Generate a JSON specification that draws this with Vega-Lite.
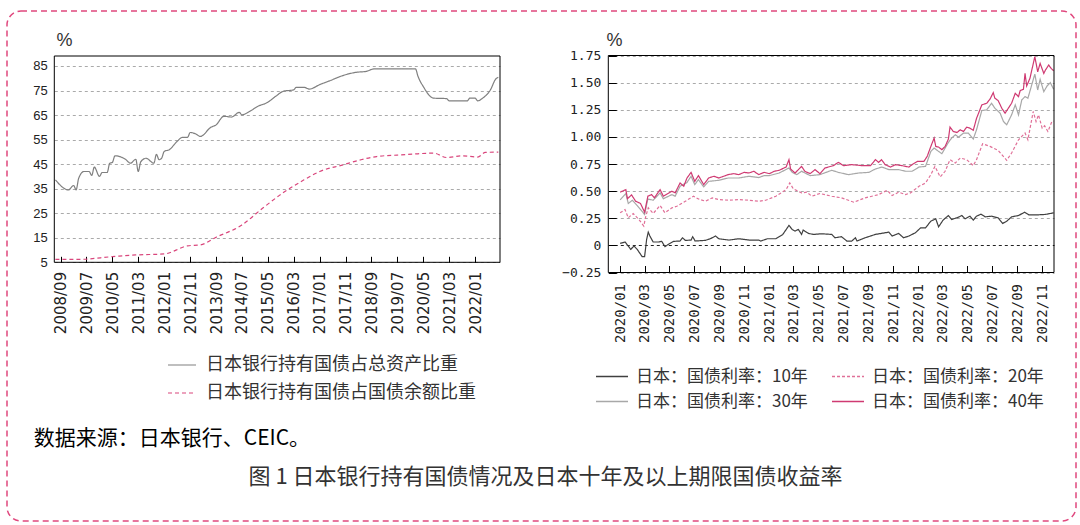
{
  "$schema": "https://vega.github.io/schema/vega-lite/v6.json",
  "width": 1069,
  "height": 510,
  "autosize": {"type": "none"},
  "padding": {"left": 7, "top": 11, "right": 4, "bottom": 4},
  "background": "white",
  "config": {
    "view": {"stroke": "#e0487e", "strokeDash": [6, 4], "strokeWidth": 1.5, "cornerRadius": 14},
    "axis": {"labelColor": "#222", "tickColor": "#000", "domain": false}
  },
  "datasets": {
    "left": [
      {"date": "2008-07-01", "series": "日本银行持有国债占总资产比重", "value": 38.6},
      {"date": "2008-12-01", "series": "日本银行持有国债占总资产比重", "value": 34.5},
      {"date": "2009-02-01", "series": "日本银行持有国债占总资产比重", "value": 36.3},
      {"date": "2009-03-01", "series": "日本银行持有国债占总资产比重", "value": 34.5},
      {"date": "2009-04-01", "series": "日本银行持有国债占总资产比重", "value": 39.3},
      {"date": "2009-06-01", "series": "日本银行持有国债占总资产比重", "value": 42.0},
      {"date": "2009-08-01", "series": "日本银行持有国债占总资产比重", "value": 42.0},
      {"date": "2009-09-01", "series": "日本银行持有国债占总资产比重", "value": 40.4},
      {"date": "2009-10-01", "series": "日本银行持有国债占总资产比重", "value": 43.8},
      {"date": "2009-12-01", "series": "日本银行持有国债占总资产比重", "value": 40.0},
      {"date": "2010-01-01", "series": "日本银行持有国债占总资产比重", "value": 41.6},
      {"date": "2010-03-01", "series": "日本银行持有国债占总资产比重", "value": 41.6},
      {"date": "2010-04-01", "series": "日本银行持有国债占总资产比重", "value": 45.4},
      {"date": "2010-05-01", "series": "日本银行持有国债占总资产比重", "value": 45.7},
      {"date": "2010-06-01", "series": "日本银行持有国债占总资产比重", "value": 48.4},
      {"date": "2010-10-01", "series": "日本银行持有国债占总资产比重", "value": 47.0},
      {"date": "2010-12-01", "series": "日本银行持有国债占总资产比重", "value": 45.4},
      {"date": "2011-02-01", "series": "日本银行持有国债占总资产比重", "value": 47.0},
      {"date": "2011-03-01", "series": "日本银行持有国债占总资产比重", "value": 42.0},
      {"date": "2011-04-01", "series": "日本银行持有国债占总资产比重", "value": 46.0},
      {"date": "2011-06-01", "series": "日本银行持有国债占总资产比重", "value": 47.4},
      {"date": "2011-09-01", "series": "日本银行持有国债占总资产比重", "value": 45.4},
      {"date": "2011-10-01", "series": "日本银行持有国债占总资产比重", "value": 49.0},
      {"date": "2011-11-01", "series": "日本银行持有国债占总资产比重", "value": 46.8},
      {"date": "2011-12-01", "series": "日本银行持有国债占总资产比重", "value": 47.4},
      {"date": "2012-01-01", "series": "日本银行持有国债占总资产比重", "value": 50.2},
      {"date": "2012-03-01", "series": "日本银行持有国债占总资产比重", "value": 50.9},
      {"date": "2012-06-01", "series": "日本银行持有国债占总资产比重", "value": 54.3},
      {"date": "2012-08-01", "series": "日本银行持有国债占总资产比重", "value": 55.9},
      {"date": "2012-10-01", "series": "日本银行持有国债占总资产比重", "value": 55.9},
      {"date": "2012-11-01", "series": "日本银行持有国债占总资产比重", "value": 57.9},
      {"date": "2013-01-01", "series": "日本银行持有国债占总资产比重", "value": 57.4},
      {"date": "2013-03-01", "series": "日本银行持有国债占总资产比重", "value": 56.3},
      {"date": "2013-07-01", "series": "日本银行持有国债占总资产比重", "value": 60.0},
      {"date": "2013-09-01", "series": "日本银行持有国债占总资产比重", "value": 61.0},
      {"date": "2013-12-01", "series": "日本银行持有国债占总资产比重", "value": 64.5},
      {"date": "2014-03-01", "series": "日本银行持有国债占总资产比重", "value": 64.2},
      {"date": "2014-06-01", "series": "日本银行持有国债占总资产比重", "value": 66.1},
      {"date": "2014-07-01", "series": "日本银行持有国债占总资产比重", "value": 65.1},
      {"date": "2014-10-01", "series": "日本银行持有国债占总资产比重", "value": 66.5},
      {"date": "2015-01-01", "series": "日本银行持有国债占总资产比重", "value": 68.5},
      {"date": "2015-05-01", "series": "日本银行持有国债占总资产比重", "value": 70.2},
      {"date": "2015-08-01", "series": "日本银行持有国债占总资产比重", "value": 72.6},
      {"date": "2015-11-01", "series": "日本银行持有国债占总资产比重", "value": 74.7},
      {"date": "2016-03-01", "series": "日本银行持有国债占总资产比重", "value": 75.3},
      {"date": "2016-04-01", "series": "日本银行持有国债占总资产比重", "value": 76.3},
      {"date": "2016-07-01", "series": "日本银行持有国债占总资产比重", "value": 76.3},
      {"date": "2016-09-01", "series": "日本银行持有国债占总资产比重", "value": 75.6},
      {"date": "2017-01-01", "series": "日本银行持有国债占总资产比重", "value": 77.4},
      {"date": "2017-05-01", "series": "日本银行持有国债占总资产比重", "value": 79.0},
      {"date": "2017-10-01", "series": "日本银行持有国债占总资产比重", "value": 81.1},
      {"date": "2018-03-01", "series": "日本银行持有国债占总资产比重", "value": 82.4},
      {"date": "2018-07-01", "series": "日本银行持有国债占总资产比重", "value": 82.8},
      {"date": "2018-10-01", "series": "日本银行持有国债占总资产比重", "value": 83.8},
      {"date": "2019-06-01", "series": "日本银行持有国债占总资产比重", "value": 83.8},
      {"date": "2020-02-01", "series": "日本银行持有国债占总资产比重", "value": 83.8},
      {"date": "2020-03-01", "series": "日本银行持有国债占总资产比重", "value": 80.8},
      {"date": "2020-05-01", "series": "日本银行持有国债占总资产比重", "value": 76.7},
      {"date": "2020-09-01", "series": "日本银行持有国债占总资产比重", "value": 71.9},
      {"date": "2021-02-01", "series": "日本银行持有国债占总资产比重", "value": 71.7},
      {"date": "2021-03-01", "series": "日本银行持有国债占总资产比重", "value": 70.8},
      {"date": "2021-10-01", "series": "日本银行持有国债占总资产比重", "value": 70.8},
      {"date": "2021-11-01", "series": "日本银行持有国债占总资产比重", "value": 71.9},
      {"date": "2022-01-01", "series": "日本银行持有国债占总资产比重", "value": 71.9},
      {"date": "2022-02-01", "series": "日本银行持有国债占总资产比重", "value": 70.8},
      {"date": "2022-04-01", "series": "日本银行持有国债占总资产比重", "value": 71.9},
      {"date": "2022-07-01", "series": "日本银行持有国债占总资产比重", "value": 75.3},
      {"date": "2022-09-01", "series": "日本银行持有国债占总资产比重", "value": 79.7},
      {"date": "2022-10-01", "series": "日本银行持有国债占总资产比重", "value": 80.4},
      {"date": "2008-07-01", "series": "日本银行持有国债占国债余额比重", "value": 6.2},
      {"date": "2009-04-01", "series": "日本银行持有国债占国债余额比重", "value": 6.2},
      {"date": "2010-05-01", "series": "日本银行持有国债占国债余额比重", "value": 7.3},
      {"date": "2011-02-01", "series": "日本银行持有国债占国债余额比重", "value": 8.0},
      {"date": "2012-01-01", "series": "日本银行持有国债占国债余额比重", "value": 8.4},
      {"date": "2012-10-01", "series": "日本银行持有国债占国债余额比重", "value": 11.7},
      {"date": "2013-03-01", "series": "日本银行持有国债占国债余额比重", "value": 12.1},
      {"date": "2013-09-01", "series": "日本银行持有国债占国债余额比重", "value": 15.2},
      {"date": "2014-07-01", "series": "日本银行持有国债占国债余额比重", "value": 20.2},
      {"date": "2015-03-01", "series": "日本银行持有国债占国债余额比重", "value": 27.0},
      {"date": "2015-11-01", "series": "日本银行持有国债占国债余额比重", "value": 33.4},
      {"date": "2016-07-01", "series": "日本银行持有国债占国债余额比重", "value": 38.6},
      {"date": "2017-01-01", "series": "日本银行持有国债占国债余额比重", "value": 42.0},
      {"date": "2017-10-01", "series": "日本银行持有国债占国债余额比重", "value": 44.7},
      {"date": "2018-05-01", "series": "日本银行持有国债占国债余额比重", "value": 46.8},
      {"date": "2018-11-01", "series": "日本银行持有国债占国债余额比重", "value": 48.1},
      {"date": "2019-07-01", "series": "日本银行持有国债占国债余额比重", "value": 48.7},
      {"date": "2020-01-01", "series": "日本银行持有国债占国债余额比重", "value": 49.1},
      {"date": "2020-09-01", "series": "日本银行持有国债占国债余额比重", "value": 49.5},
      {"date": "2021-02-01", "series": "日本银行持有国债占国债余额比重", "value": 47.7},
      {"date": "2021-08-01", "series": "日本银行持有国债占国债余额比重", "value": 48.4},
      {"date": "2022-02-01", "series": "日本银行持有国债占国债余额比重", "value": 47.9},
      {"date": "2022-05-01", "series": "日本银行持有国债占国债余额比重", "value": 49.8},
      {"date": "2022-10-01", "series": "日本银行持有国债占国债余额比重", "value": 49.9}
    ],
    "right": [
      {"date": "2020-01-01", "series": "日本：国债利率：10年", "value": 0.018},
      {"date": "2020-01-13", "series": "日本：国债利率：10年", "value": 0.031},
      {"date": "2020-01-21", "series": "日本：国债利率：10年", "value": -0.006},
      {"date": "2020-01-27", "series": "日本：国债利率：10年", "value": -0.037},
      {"date": "2020-02-04", "series": "日本：国债利率：10年", "value": -0.006},
      {"date": "2020-02-12", "series": "日本：国债利率：10年", "value": -0.037},
      {"date": "2020-02-24", "series": "日本：国债利率：10年", "value": -0.104},
      {"date": "2020-03-01", "series": "日本：国债利率：10年", "value": -0.104},
      {"date": "2020-03-06", "series": "日本：国债利率：10年", "value": 0.055},
      {"date": "2020-03-10", "series": "日本：国债利率：10年", "value": 0.122},
      {"date": "2020-03-14", "series": "日本：国债利率：10年", "value": 0.086},
      {"date": "2020-03-22", "series": "日本：国债利率：10年", "value": 0.031},
      {"date": "2020-04-04", "series": "日本：国债利率：10年", "value": 0.031},
      {"date": "2020-04-12", "series": "日本：国债利率：10年", "value": 0.037},
      {"date": "2020-04-20", "series": "日本：国债利率：10年", "value": -0.012},
      {"date": "2020-04-28", "series": "日本：国债利率：10年", "value": 0.009},
      {"date": "2020-05-11", "series": "日本：国债利率：10年", "value": 0.037},
      {"date": "2020-05-27", "series": "日本：国债利率：10年", "value": 0.04},
      {"date": "2020-06-02", "series": "日本：国债利率：10年", "value": 0.07},
      {"date": "2020-06-09", "series": "日本：国债利率：10年", "value": 0.046},
      {"date": "2020-06-23", "series": "日本：国债利率：10年", "value": 0.049},
      {"date": "2020-06-27", "series": "日本：国债利率：10年", "value": 0.08},
      {"date": "2020-07-03", "series": "日本：国债利率：10年", "value": 0.04},
      {"date": "2020-07-28", "series": "日本：国债利率：10年", "value": 0.046},
      {"date": "2020-08-09", "series": "日本：国债利率：10年", "value": 0.061},
      {"date": "2020-08-22", "series": "日本：国债利率：10年", "value": 0.086},
      {"date": "2020-08-30", "series": "日本：国债利率：10年", "value": 0.061},
      {"date": "2020-09-24", "series": "日本：国债利率：10年", "value": 0.049},
      {"date": "2020-10-18", "series": "日本：国债利率：10年", "value": 0.061},
      {"date": "2020-11-12", "series": "日本：国债利率：10年", "value": 0.049},
      {"date": "2020-12-06", "series": "日本：国债利率：10年", "value": 0.049},
      {"date": "2020-12-11", "series": "日本：国债利率：10年", "value": 0.04},
      {"date": "2020-12-27", "series": "日本：国债利率：10年", "value": 0.061},
      {"date": "2021-01-17", "series": "日本：国债利率：10年", "value": 0.061},
      {"date": "2021-02-03", "series": "日本：国债利率：10年", "value": 0.101},
      {"date": "2021-02-18", "series": "日本：国债利率：10年", "value": 0.184},
      {"date": "2021-02-26", "series": "日本：国债利率：10年", "value": 0.147},
      {"date": "2021-03-05", "series": "日本：国债利率：10年", "value": 0.132},
      {"date": "2021-03-13", "series": "日本：国债利率：10年", "value": 0.147},
      {"date": "2021-03-21", "series": "日本：国债利率：10年", "value": 0.101},
      {"date": "2021-03-25", "series": "日本：国债利率：10年", "value": 0.141},
      {"date": "2021-04-07", "series": "日本：国债利率：10年", "value": 0.11},
      {"date": "2021-04-19", "series": "日本：国债利率：10年", "value": 0.101},
      {"date": "2021-05-09", "series": "日本：国债利率：10年", "value": 0.107},
      {"date": "2021-06-03", "series": "日本：国债利率：10年", "value": 0.101},
      {"date": "2021-06-11", "series": "日本：国债利率：10年", "value": 0.07},
      {"date": "2021-06-27", "series": "日本：国债利率：10年", "value": 0.08},
      {"date": "2021-07-10", "series": "日本：国债利率：10年", "value": 0.04},
      {"date": "2021-07-22", "series": "日本：国债利率：10年", "value": 0.04},
      {"date": "2021-07-31", "series": "日本：国债利率：10年", "value": 0.07},
      {"date": "2021-08-04", "series": "日本：国债利率：10年", "value": 0.04},
      {"date": "2021-08-24", "series": "日本：国债利率：10年", "value": 0.07},
      {"date": "2021-09-18", "series": "日本：国债利率：10年", "value": 0.101},
      {"date": "2021-10-21", "series": "日本：国债利率：10年", "value": 0.122},
      {"date": "2021-10-29", "series": "日本：国债利率：10年", "value": 0.086},
      {"date": "2021-11-14", "series": "日本：国债利率：10年", "value": 0.11},
      {"date": "2021-11-26", "series": "日本：国债利率：10年", "value": 0.07},
      {"date": "2021-12-09", "series": "日本：国债利率：10年", "value": 0.086},
      {"date": "2021-12-25", "series": "日本：国债利率：10年", "value": 0.116},
      {"date": "2022-01-07", "series": "日本：国债利率：10年", "value": 0.162},
      {"date": "2022-01-19", "series": "日本：国债利率：10年", "value": 0.162},
      {"date": "2022-02-01", "series": "日本：国债利率：10年", "value": 0.223},
      {"date": "2022-02-13", "series": "日本：国债利率：10年", "value": 0.245},
      {"date": "2022-02-20", "series": "日本：国债利率：10年", "value": 0.171},
      {"date": "2022-03-03", "series": "日本：国债利率：10年", "value": 0.233},
      {"date": "2022-03-16", "series": "日本：国债利率：10年", "value": 0.275},
      {"date": "2022-03-24", "series": "日本：国债利率：10年", "value": 0.239},
      {"date": "2022-04-06", "series": "日本：国债利率：10年", "value": 0.254},
      {"date": "2022-04-18", "series": "日本：国债利率：10年", "value": 0.275},
      {"date": "2022-04-26", "series": "日本：国债利率：10年", "value": 0.245},
      {"date": "2022-05-08", "series": "日本：国债利率：10年", "value": 0.269},
      {"date": "2022-05-16", "series": "日本：国债利率：10年", "value": 0.233},
      {"date": "2022-05-24", "series": "日本：国债利率：10年", "value": 0.269},
      {"date": "2022-06-04", "series": "日本：国债利率：10年", "value": 0.288},
      {"date": "2022-06-14", "series": "日本：国债利率：10年", "value": 0.263},
      {"date": "2022-06-30", "series": "日本：国债利率：10年", "value": 0.269},
      {"date": "2022-07-16", "series": "日本：国债利率：10年", "value": 0.254},
      {"date": "2022-07-27", "series": "日本：国债利率：10年", "value": 0.202},
      {"date": "2022-08-06", "series": "日本：国债利率：10年", "value": 0.223},
      {"date": "2022-08-18", "series": "日本：国债利率：10年", "value": 0.263},
      {"date": "2022-09-04", "series": "日本：国债利率：10年", "value": 0.275},
      {"date": "2022-09-19", "series": "日本：国债利率：10年", "value": 0.306},
      {"date": "2022-09-29", "series": "日本：国债利率：10年", "value": 0.282},
      {"date": "2022-10-23", "series": "日本：国债利率：10年", "value": 0.282},
      {"date": "2022-11-09", "series": "日本：国债利率：10年", "value": 0.285},
      {"date": "2022-11-29", "series": "日本：国债利率：10年", "value": 0.3},
      {"date": "2020-01-01", "series": "日本：国债利率：20年", "value": 0.3},
      {"date": "2020-01-13", "series": "日本：国债利率：20年", "value": 0.33},
      {"date": "2020-01-21", "series": "日本：国债利率：20年", "value": 0.254},
      {"date": "2020-02-02", "series": "日本：国债利率：20年", "value": 0.294},
      {"date": "2020-02-16", "series": "日本：国债利率：20年", "value": 0.239},
      {"date": "2020-02-28", "series": "日本：国债利率：20年", "value": 0.178},
      {"date": "2020-03-04", "series": "日本：国债利率：20年", "value": 0.269},
      {"date": "2020-03-10", "series": "日本：国债利率：20年", "value": 0.346},
      {"date": "2020-03-22", "series": "日本：国债利率：20年", "value": 0.294},
      {"date": "2020-04-08", "series": "日本：国债利率：20年", "value": 0.367},
      {"date": "2020-04-20", "series": "日本：国债利率：20年", "value": 0.3},
      {"date": "2020-05-07", "series": "日本：国债利率：20年", "value": 0.346},
      {"date": "2020-05-19", "series": "日本：国债利率：20年", "value": 0.361},
      {"date": "2020-06-09", "series": "日本：国债利率：20年", "value": 0.407},
      {"date": "2020-06-29", "series": "日本：国债利率：20年", "value": 0.453},
      {"date": "2020-07-11", "series": "日本：国债利率：20年", "value": 0.428},
      {"date": "2020-07-28", "series": "日本：国债利率：20年", "value": 0.407},
      {"date": "2020-08-14", "series": "日本：国债利率：20年", "value": 0.438},
      {"date": "2020-08-30", "series": "日本：国债利率：20年", "value": 0.422},
      {"date": "2020-09-24", "series": "日本：国债利率：20年", "value": 0.416},
      {"date": "2020-10-18", "series": "日本：国债利率：20年", "value": 0.422},
      {"date": "2020-11-12", "series": "日本：国债利率：20年", "value": 0.416},
      {"date": "2020-12-06", "series": "日本：国债利率：20年", "value": 0.407},
      {"date": "2020-12-23", "series": "日本：国债利率：20年", "value": 0.416},
      {"date": "2021-01-17", "series": "日本：国债利率：20年", "value": 0.453},
      {"date": "2021-02-11", "series": "日本：国债利率：20年", "value": 0.514},
      {"date": "2021-02-20", "series": "日本：国债利率：20年", "value": 0.575},
      {"date": "2021-03-01", "series": "日本：国债利率：20年", "value": 0.52},
      {"date": "2021-03-21", "series": "日本：国债利率：20年", "value": 0.484},
      {"date": "2021-04-03", "series": "日本：国债利率：20年", "value": 0.49},
      {"date": "2021-04-15", "series": "日本：国债利率：20年", "value": 0.453},
      {"date": "2021-05-05", "series": "日本：国债利率：20年", "value": 0.478},
      {"date": "2021-06-03", "series": "日本：国债利率：20年", "value": 0.453},
      {"date": "2021-06-27", "series": "日本：国债利率：20年", "value": 0.438},
      {"date": "2021-07-27", "series": "日本：国债利率：20年", "value": 0.398},
      {"date": "2021-08-24", "series": "日本：国债利率：20年", "value": 0.438},
      {"date": "2021-09-26", "series": "日本：国债利率：20年", "value": 0.468},
      {"date": "2021-10-17", "series": "日本：国债利率：20年", "value": 0.508},
      {"date": "2021-10-29", "series": "日本：国债利率：20年", "value": 0.459},
      {"date": "2021-11-14", "series": "日本：国债利率：20年", "value": 0.49},
      {"date": "2021-12-01", "series": "日本：国债利率：20年", "value": 0.468},
      {"date": "2021-12-13", "series": "日本：国债利率：20年", "value": 0.484},
      {"date": "2022-01-03", "series": "日本：国债利率：20年", "value": 0.545},
      {"date": "2022-01-19", "series": "日本：国债利率：20年", "value": 0.575},
      {"date": "2022-02-01", "series": "日本：国债利率：20年", "value": 0.652},
      {"date": "2022-02-11", "series": "日本：国债利率：20年", "value": 0.728},
      {"date": "2022-02-24", "series": "日本：国债利率：20年", "value": 0.631},
      {"date": "2022-03-08", "series": "日本：国债利率：20年", "value": 0.683},
      {"date": "2022-03-20", "series": "日本：国债利率：20年", "value": 0.79},
      {"date": "2022-04-02", "series": "日本：国债利率：20年", "value": 0.759},
      {"date": "2022-04-14", "series": "日本：国债利率：20年", "value": 0.805},
      {"date": "2022-04-30", "series": "日本：国债利率：20年", "value": 0.79},
      {"date": "2022-05-16", "series": "日本：国债利率：20年", "value": 0.735},
      {"date": "2022-05-24", "series": "日本：国债利率：20年", "value": 0.79},
      {"date": "2022-06-08", "series": "日本：国债利率：20年", "value": 0.937},
      {"date": "2022-06-26", "series": "日本：国债利率：20年", "value": 0.912},
      {"date": "2022-07-16", "series": "日本：国债利率：20年", "value": 0.875},
      {"date": "2022-08-06", "series": "日本：国债利率：20年", "value": 0.784},
      {"date": "2022-08-18", "series": "日本：国债利率：20年", "value": 0.851},
      {"date": "2022-09-04", "series": "日本：国债利率：20年", "value": 0.973},
      {"date": "2022-09-12", "series": "日本：国债利率：20年", "value": 1.004},
      {"date": "2022-09-20", "series": "日本：国债利率：20年", "value": 1.035},
      {"date": "2022-09-27", "series": "日本：国债利率：20年", "value": 0.973},
      {"date": "2022-10-10", "series": "日本：国债利率：20年", "value": 1.234},
      {"date": "2022-10-17", "series": "日本：国债利率：20年", "value": 1.142},
      {"date": "2022-10-23", "series": "日本：国债利率：20年", "value": 1.203},
      {"date": "2022-11-01", "series": "日本：国债利率：20年", "value": 1.08},
      {"date": "2022-11-07", "series": "日本：国债利率：20年", "value": 1.102},
      {"date": "2022-11-15", "series": "日本：国债利率：20年", "value": 1.05},
      {"date": "2022-11-25", "series": "日本：国债利率：20年", "value": 1.142},
      {"date": "2022-11-29", "series": "日本：国债利率：20年", "value": 1.142},
      {"date": "2020-01-01", "series": "日本：国债利率：30年", "value": 0.42},
      {"date": "2020-01-15", "series": "日本：国债利率：30年", "value": 0.477},
      {"date": "2020-01-21", "series": "日本：国债利率：30年", "value": 0.386},
      {"date": "2020-01-31", "series": "日本：国债利率：30年", "value": 0.416},
      {"date": "2020-02-12", "series": "日本：国债利率：30年", "value": 0.367},
      {"date": "2020-03-01", "series": "日本：国债利率：30年", "value": 0.285},
      {"date": "2020-03-09", "series": "日本：国债利率：30年", "value": 0.428},
      {"date": "2020-03-22", "series": "日本：国债利率：30年", "value": 0.416},
      {"date": "2020-04-08", "series": "日本：国债利率：30年", "value": 0.484},
      {"date": "2020-04-16", "series": "日本：国债利率：30年", "value": 0.43},
      {"date": "2020-05-07", "series": "日本：国债利率：30年", "value": 0.468},
      {"date": "2020-05-15", "series": "日本：国债利率：30年", "value": 0.453},
      {"date": "2020-05-27", "series": "日本：国债利率：30年", "value": 0.545},
      {"date": "2020-06-13", "series": "日本：国债利率：30年", "value": 0.58},
      {"date": "2020-06-23", "series": "日本：国债利率：30年", "value": 0.637},
      {"date": "2020-07-02", "series": "日本：国债利率：30年", "value": 0.56},
      {"date": "2020-07-11", "series": "日本：国债利率：30年", "value": 0.606},
      {"date": "2020-07-24", "series": "日本：国债利率：30年", "value": 0.539},
      {"date": "2020-08-05", "series": "日本：国债利率：30年", "value": 0.59},
      {"date": "2020-08-30", "series": "日本：国债利率：30年", "value": 0.6},
      {"date": "2020-09-22", "series": "日本：国债利率：30年", "value": 0.621},
      {"date": "2020-10-18", "series": "日本：国债利率：30年", "value": 0.621},
      {"date": "2020-11-12", "series": "日本：国债利率：30年", "value": 0.637},
      {"date": "2020-12-06", "series": "日本：国债利率：30年", "value": 0.625},
      {"date": "2020-12-19", "series": "日本：国债利率：30年", "value": 0.643},
      {"date": "2021-01-01", "series": "日本：国债利率：30年", "value": 0.643},
      {"date": "2021-01-25", "series": "日本：国债利率：30年", "value": 0.667},
      {"date": "2021-02-18", "series": "日本：国债利率：30年", "value": 0.713},
      {"date": "2021-02-26", "series": "日本：国债利率：30年", "value": 0.673},
      {"date": "2021-03-09", "series": "日本：国债利率：30年", "value": 0.652},
      {"date": "2021-03-21", "series": "日本：国债利率：30年", "value": 0.683},
      {"date": "2021-04-11", "series": "日本：国债利率：30年", "value": 0.643},
      {"date": "2021-05-05", "series": "日本：国债利率：30年", "value": 0.652},
      {"date": "2021-06-03", "series": "日本：国债利率：30年", "value": 0.692},
      {"date": "2021-06-19", "series": "日本：国债利率：30年", "value": 0.673},
      {"date": "2021-07-14", "series": "日本：国债利率：30年", "value": 0.652},
      {"date": "2021-08-08", "series": "日本：国债利率：30年", "value": 0.667},
      {"date": "2021-09-02", "series": "日本：国债利率：30年", "value": 0.673},
      {"date": "2021-09-18", "series": "日本：国债利率：30年", "value": 0.704},
      {"date": "2021-10-04", "series": "日本：国债利率：30年", "value": 0.722},
      {"date": "2021-10-21", "series": "日本：国债利率：30年", "value": 0.698},
      {"date": "2021-11-14", "series": "日本：国债利率：30年", "value": 0.698},
      {"date": "2021-12-01", "series": "日本：国债利率：30年", "value": 0.683},
      {"date": "2021-12-17", "series": "日本：国债利率：30年", "value": 0.683},
      {"date": "2022-01-03", "series": "日本：国债利率：30年", "value": 0.722},
      {"date": "2022-01-19", "series": "日本：国债利率：30年", "value": 0.728},
      {"date": "2022-02-01", "series": "日本：国债利率：30年", "value": 0.866},
      {"date": "2022-02-09", "series": "日本：国债利率：30年", "value": 0.897},
      {"date": "2022-02-20", "series": "日本：国债利率：30年", "value": 0.866},
      {"date": "2022-02-28", "series": "日本：国债利率：30年", "value": 0.845},
      {"date": "2022-03-16", "series": "日本：国债利率：30年", "value": 0.949},
      {"date": "2022-03-24", "series": "日本：国债利率：30年", "value": 0.989},
      {"date": "2022-04-02", "series": "日本：国债利率：30年", "value": 1.019},
      {"date": "2022-04-10", "series": "日本：国债利率：30年", "value": 0.998},
      {"date": "2022-04-22", "series": "日本：国债利率：30年", "value": 1.035},
      {"date": "2022-05-04", "series": "日本：国债利率：30年", "value": 1.035},
      {"date": "2022-05-16", "series": "日本：国债利率：30年", "value": 0.98},
      {"date": "2022-05-24", "series": "日本：国债利率：30年", "value": 1.065},
      {"date": "2022-06-06", "series": "日本：国债利率：30年", "value": 1.243},
      {"date": "2022-06-18", "series": "日本：国债利率：30年", "value": 1.249},
      {"date": "2022-06-30", "series": "日本：国债利率：30年", "value": 1.31},
      {"date": "2022-07-08", "series": "日本：国债利率：30年", "value": 1.264},
      {"date": "2022-07-21", "series": "日本：国债利率：30年", "value": 1.218},
      {"date": "2022-07-29", "series": "日本：国债利率：30年", "value": 1.142},
      {"date": "2022-08-06", "series": "日本：国债利率：30年", "value": 1.111},
      {"date": "2022-08-18", "series": "日本：国债利率：30年", "value": 1.203},
      {"date": "2022-08-27", "series": "日本：国债利率：30年", "value": 1.295},
      {"date": "2022-09-04", "series": "日本：国债利率：30年", "value": 1.203},
      {"date": "2022-09-12", "series": "日本：国债利率：30年", "value": 1.341},
      {"date": "2022-09-20", "series": "日本：国债利率：30年", "value": 1.371},
      {"date": "2022-09-27", "series": "日本：国债利率：30年", "value": 1.356},
      {"date": "2022-10-14", "series": "日本：国债利率：30年", "value": 1.579},
      {"date": "2022-10-21", "series": "日本：国债利率：30年", "value": 1.432},
      {"date": "2022-10-27", "series": "日本：国债利率：30年", "value": 1.53},
      {"date": "2022-11-05", "series": "日本：国债利率：30年", "value": 1.417},
      {"date": "2022-11-13", "series": "日本：国债利率：30年", "value": 1.469},
      {"date": "2022-11-21", "series": "日本：国债利率：30年", "value": 1.5},
      {"date": "2022-11-29", "series": "日本：国债利率：30年", "value": 1.439},
      {"date": "2020-01-01", "series": "日本：国债利率：40年", "value": 0.49},
      {"date": "2020-01-15", "series": "日本：国债利率：40年", "value": 0.514},
      {"date": "2020-01-19", "series": "日本：国债利率：40年", "value": 0.43},
      {"date": "2020-01-29", "series": "日本：国债利率：40年", "value": 0.465},
      {"date": "2020-02-08", "series": "日本：国债利率：40年", "value": 0.407},
      {"date": "2020-02-20", "series": "日本：国债利率：40年", "value": 0.386},
      {"date": "2020-03-01", "series": "日本：国债利率：40年", "value": 0.306},
      {"date": "2020-03-04", "series": "日本：国债利率：40年", "value": 0.36},
      {"date": "2020-03-09", "series": "日本：国债利率：40年", "value": 0.453},
      {"date": "2020-03-18", "series": "日本：国债利率：40年", "value": 0.468},
      {"date": "2020-03-25", "series": "日本：国债利率：40年", "value": 0.438},
      {"date": "2020-04-08", "series": "日本：国债利率：40年", "value": 0.514},
      {"date": "2020-04-16", "series": "日本：国债利率：40年", "value": 0.453},
      {"date": "2020-05-07", "series": "日本：国债利率：40年", "value": 0.499},
      {"date": "2020-05-15", "series": "日本：国债利率：40年", "value": 0.484},
      {"date": "2020-05-27", "series": "日本：国债利率：40年", "value": 0.575},
      {"date": "2020-06-05", "series": "日本：国债利率：40年", "value": 0.545},
      {"date": "2020-06-13", "series": "日本：国债利率：40年", "value": 0.621},
      {"date": "2020-06-23", "series": "日本：国债利率：40年", "value": 0.673},
      {"date": "2020-07-02", "series": "日本：国债利率：40年", "value": 0.59},
      {"date": "2020-07-11", "series": "日本：国债利率：40年", "value": 0.643},
      {"date": "2020-07-24", "series": "日本：国债利率：40年", "value": 0.56},
      {"date": "2020-08-05", "series": "日本：国债利率：40年", "value": 0.621},
      {"date": "2020-08-18", "series": "日本：国债利率：40年", "value": 0.637},
      {"date": "2020-08-30", "series": "日本：国债利率：40年", "value": 0.621},
      {"date": "2020-09-11", "series": "日本：国债利率：40年", "value": 0.637},
      {"date": "2020-09-22", "series": "日本：国债利率：40年", "value": 0.652},
      {"date": "2020-10-06", "series": "日本：国债利率：40年", "value": 0.661},
      {"date": "2020-10-18", "series": "日本：国债利率：40年", "value": 0.652},
      {"date": "2020-10-31", "series": "日本：国债利率：40年", "value": 0.673},
      {"date": "2020-11-12", "series": "日本：国债利率：40年", "value": 0.667},
      {"date": "2020-11-24", "series": "日本：国债利率：40年", "value": 0.683},
      {"date": "2020-12-06", "series": "日本：国债利率：40年", "value": 0.652},
      {"date": "2020-12-19", "series": "日本：国债利率：40年", "value": 0.673},
      {"date": "2021-01-01", "series": "日本：国债利率：40年", "value": 0.661},
      {"date": "2021-01-13", "series": "日本：国债利率：40年", "value": 0.683},
      {"date": "2021-01-25", "series": "日本：国债利率：40年", "value": 0.692},
      {"date": "2021-02-11", "series": "日本：国债利率：40年", "value": 0.722},
      {"date": "2021-02-18", "series": "日本：国债利率：40年", "value": 0.79},
      {"date": "2021-02-22", "series": "日本：国债利率：40年", "value": 0.704},
      {"date": "2021-03-05", "series": "日本：国债利率：40年", "value": 0.667},
      {"date": "2021-03-21", "series": "日本：国债利率：40年", "value": 0.728},
      {"date": "2021-03-29", "series": "日本：国债利率：40年", "value": 0.683},
      {"date": "2021-04-11", "series": "日本：国债利率：40年", "value": 0.661},
      {"date": "2021-04-23", "series": "日本：国债利率：40年", "value": 0.698},
      {"date": "2021-05-05", "series": "日本：国债利率：40年", "value": 0.661},
      {"date": "2021-05-17", "series": "日本：国债利率：40年", "value": 0.713},
      {"date": "2021-06-07", "series": "日本：国债利率：40年", "value": 0.735},
      {"date": "2021-06-19", "series": "日本：国债利率：40年", "value": 0.765},
      {"date": "2021-07-02", "series": "日本：国债利率：40年", "value": 0.735},
      {"date": "2021-07-22", "series": "日本：国债利率：40年", "value": 0.744},
      {"date": "2021-08-16", "series": "日本：国债利率：40年", "value": 0.735},
      {"date": "2021-09-06", "series": "日本：国债利率：40年", "value": 0.735},
      {"date": "2021-09-18", "series": "日本：国债利率：40年", "value": 0.79},
      {"date": "2021-09-26", "series": "日本：国债利率：40年", "value": 0.765},
      {"date": "2021-10-03", "series": "日本：国债利率：40年", "value": 0.79},
      {"date": "2021-10-12", "series": "日本：国债利率：40年", "value": 0.744},
      {"date": "2021-10-25", "series": "日本：国债利率：40年", "value": 0.722},
      {"date": "2021-11-06", "series": "日本：国债利率：40年", "value": 0.744},
      {"date": "2021-11-22", "series": "日本：国债利率：40年", "value": 0.735},
      {"date": "2021-12-09", "series": "日本：国债利率：40年", "value": 0.722},
      {"date": "2021-12-17", "series": "日本：国债利率：40年", "value": 0.744},
      {"date": "2021-12-30", "series": "日本：国债利率：40年", "value": 0.774},
      {"date": "2022-01-15", "series": "日本：国债利率：40年", "value": 0.774},
      {"date": "2022-01-23", "series": "日本：国债利率：40年", "value": 0.82},
      {"date": "2022-02-01", "series": "日本：国债利率：40年", "value": 0.912},
      {"date": "2022-02-09", "series": "日本：国债利率：40年", "value": 0.989},
      {"date": "2022-02-13", "series": "日本：国债利率：40年", "value": 0.912},
      {"date": "2022-02-20", "series": "日本：国债利率：40年", "value": 0.906},
      {"date": "2022-02-28", "series": "日本：国债利率：40年", "value": 0.882},
      {"date": "2022-03-08", "series": "日本：国债利率：40年", "value": 0.912},
      {"date": "2022-03-16", "series": "日本：国债利率：40年", "value": 0.98},
      {"date": "2022-03-20", "series": "日本：国债利率：40年", "value": 1.09},
      {"date": "2022-03-28", "series": "日本：国债利率：40年", "value": 1.05},
      {"date": "2022-04-06", "series": "日本：国债利率：40年", "value": 1.04},
      {"date": "2022-04-14", "series": "日本：国债利率：40年", "value": 1.065},
      {"date": "2022-04-22", "series": "日本：国债利率：40年", "value": 1.05},
      {"date": "2022-04-30", "series": "日本：国债利率：40年", "value": 1.09},
      {"date": "2022-05-08", "series": "日本：国债利率：40年", "value": 1.08},
      {"date": "2022-05-16", "series": "日本：国债利率：40年", "value": 1.06},
      {"date": "2022-05-24", "series": "日本：国债利率：40年", "value": 1.17},
      {"date": "2022-06-06", "series": "日本：国债利率：40年", "value": 1.295},
      {"date": "2022-06-18", "series": "日本：国债利率：40年", "value": 1.31},
      {"date": "2022-06-26", "series": "日本：国债利率：40年", "value": 1.347},
      {"date": "2022-07-04", "series": "日本：国债利率：40年", "value": 1.408},
      {"date": "2022-07-08", "series": "日本：国债利率：40年", "value": 1.356},
      {"date": "2022-07-16", "series": "日本：国债利率：40年", "value": 1.335},
      {"date": "2022-07-25", "series": "日本：国债利率：40年", "value": 1.264},
      {"date": "2022-08-02", "series": "日本：国债利率：40年", "value": 1.218},
      {"date": "2022-08-10", "series": "日本：国债利率：40年", "value": 1.264},
      {"date": "2022-08-18", "series": "日本：国债利率：40年", "value": 1.31},
      {"date": "2022-08-27", "series": "日本：国债利率：40年", "value": 1.402},
      {"date": "2022-09-04", "series": "日本：国债利率：40年", "value": 1.371},
      {"date": "2022-09-08", "series": "日本：国债利率：40年", "value": 1.426},
      {"date": "2022-09-16", "series": "日本：国债利率：40年", "value": 1.439},
      {"date": "2022-09-20", "series": "日本：国债利率：40年", "value": 1.585},
      {"date": "2022-09-24", "series": "日本：国债利率：40年", "value": 1.469},
      {"date": "2022-10-02", "series": "日本：国债利率：40年", "value": 1.54},
      {"date": "2022-10-14", "series": "日本：国债利率：40年", "value": 1.739},
      {"date": "2022-10-21", "series": "日本：国债利率：40年", "value": 1.6},
      {"date": "2022-10-27", "series": "日本：国债利率：40年", "value": 1.677},
      {"date": "2022-11-05", "series": "日本：国债利率：40年", "value": 1.585},
      {"date": "2022-11-09", "series": "日本：国债利率：40年", "value": 1.616},
      {"date": "2022-11-17", "series": "日本：国债利率：40年", "value": 1.662},
      {"date": "2022-11-23", "series": "日本：国债利率：40年", "value": 1.631},
      {"date": "2022-11-29", "series": "日本：国债利率：40年", "value": 1.61}
    ]
  },
  "layer": [
    {
      "layer": [
        {
          "data": {"name": "left"},
          "mark": {"type": "line", "strokeWidth": 1.2, "interpolate": "monotone"},
          "encoding": {
            "x": {
              "field": "date", "type": "temporal",
              "scale": {"domain": [{"year": 2008, "month": 6, "date": 18}, {"year": 2022, "month": 10, "date": 21}], "range": [47.3, 493], "nice": false},
              "axis": {
                "orient": "bottom", "offset": -258.7,
                "values": [{"year": 2008, "month": 9, "date": 1}, {"year": 2009, "month": 7, "date": 1}, {"year": 2010, "month": 5, "date": 1}, {"year": 2011, "month": 3, "date": 1}, {"year": 2012, "month": 1, "date": 1}, {"year": 2012, "month": 11, "date": 1}, {"year": 2013, "month": 9, "date": 1}, {"year": 2014, "month": 7, "date": 1}, {"year": 2015, "month": 5, "date": 1}, {"year": 2016, "month": 3, "date": 1}, {"year": 2017, "month": 1, "date": 1}, {"year": 2017, "month": 11, "date": 1}, {"year": 2018, "month": 9, "date": 1}, {"year": 2019, "month": 7, "date": 1}, {"year": 2020, "month": 5, "date": 1}, {"year": 2021, "month": 3, "date": 1}, {"year": 2022, "month": 1, "date": 1}],
                "format": "%Y/%m", "labelAngle": -90, "labelFont": "DejaVu Sans", "labelFontSize": 15,
                "tickSize": -6, "labelPadding": 15, "grid": false, "labelFlush": false, "labelOverlap": false,
                "title": "数据来源：日本银行、CEIC。", "titleX": 26.3, "titleY": 175.7, "titleAlign": "left", "titleBaseline": "middle",
                "titleFont": "Noto Sans CJK SC", "titleFontSize": 21, "titleFontWeight": "normal", "titleColor": "#000"
              }
            },
            "y": {
              "field": "value", "type": "quantitative",
              "scale": {"domain": [5, 89.07], "range": [251.3, 45], "nice": false, "zero": false},
              "axis": {
                "orient": "left", "offset": -47.3, "values": [5, 15, 25, 35, 45, 55, 65, 75, 85],
                "grid": true, "gridColor": "#aaaaaa", "gridDash": [3, 3], "ticks": false,
                "labelFont": "Liberation Sans", "labelFontSize": 13, "labelPadding": 7, "labelFlush": false,
                "title": "%", "titleAngle": 0, "titleX": 9.7, "titleY": 29, "titleAlign": "center", "titleBaseline": "middle",
                "titleFont": "Liberation Sans", "titleFontSize": 18, "titleFontWeight": "normal", "titleColor": "#333"
              }
            },
            "color": {
              "field": "series", "type": "nominal",
              "scale": {"domain": ["日本银行持有国债占总资产比重", "日本银行持有国债占国债余额比重"], "range": ["#808080", "#d9467c"]},
              "legend": {
                "orient": "none", "legendX": 160, "legendY": 339, "title": null, "direction": "vertical",
                "symbolType": "stroke", "symbolSize": 784, "symbolStrokeWidth": 1.2,
                "labelFont": "Noto Sans CJK SC", "labelFontSize": 18, "labelColor": "#333", "labelOffset": 9,
                "rowPadding": 4, "padding": 0, "labelLimit": 500
              }
            },
            "strokeDash": {
              "field": "series", "type": "nominal",
              "scale": {"domain": ["日本银行持有国债占总资产比重", "日本银行持有国债占国债余额比重"], "range": [[1, 0], [4, 3]]}
            }
          }
        },
        {
          "data": {"values": [{}]},
          "mark": {"type": "rect", "fill": "transparent", "stroke": "#000", "strokeWidth": 1},
          "encoding": {
            "x": {"datum": {"year": 2008, "month": 6, "date": 18}, "type": "temporal"},
            "x2": {"datum": {"year": 2022, "month": 10, "date": 21}},
            "y": {"datum": 5, "type": "quantitative"},
            "y2": {"datum": 89.07}
          }
        }
      ]
    },
    {
      "layer": [
        {
          "data": {"name": "right"},
          "mark": {"type": "line", "strokeWidth": 1.2},
          "encoding": {
            "x": {
              "field": "date", "type": "temporal",
              "scale": {"domain": [{"year": 2019, "month": 12, "date": 3}, {"year": 2022, "month": 11, "date": 30}], "range": [601.3, 1047], "nice": false},
              "axis": {
                "orient": "bottom", "offset": -248.5,
                "values": [{"year": 2020, "month": 1, "date": 1}, {"year": 2020, "month": 3, "date": 1}, {"year": 2020, "month": 5, "date": 1}, {"year": 2020, "month": 7, "date": 1}, {"year": 2020, "month": 9, "date": 1}, {"year": 2020, "month": 11, "date": 1}, {"year": 2021, "month": 1, "date": 1}, {"year": 2021, "month": 3, "date": 1}, {"year": 2021, "month": 5, "date": 1}, {"year": 2021, "month": 7, "date": 1}, {"year": 2021, "month": 9, "date": 1}, {"year": 2021, "month": 11, "date": 1}, {"year": 2022, "month": 1, "date": 1}, {"year": 2022, "month": 3, "date": 1}, {"year": 2022, "month": 5, "date": 1}, {"year": 2022, "month": 7, "date": 1}, {"year": 2022, "month": 9, "date": 1}, {"year": 2022, "month": 11, "date": 1}],
                "format": "%Y/%m", "labelAngle": -90, "labelFont": "DejaVu Sans Mono", "labelFontSize": 14,
                "tickSize": -7, "labelPadding": 18, "grid": false, "labelFlush": false, "labelOverlap": false,
                "title": "图 1 日本银行持有国债情况及日本十年及以上期限国债收益率", "titleX": 538, "titleY": 204.2, "titleAlign": "center", "titleBaseline": "middle",
                "titleFont": "Noto Sans CJK SC", "titleFontSize": 22, "titleFontWeight": "normal", "titleColor": "#333"
              }
            },
            "y": {
              "field": "value", "type": "quantitative",
              "scale": {"domain": [-0.25, 1.75], "range": [261.5, 44.5], "nice": false, "zero": false},
              "axis": {
                "orient": "left", "offset": -601.3, "values": [-0.25, 0, 0.25, 0.5, 0.75, 1, 1.25, 1.5, 1.75],
                "labelExpr": "datum.value === 0 ? '0' : format(datum.value, '.2f')",
                "grid": true, "gridColor": {"condition": {"test": "datum.value === 0", "value": "#222222"}, "value": "#aaaaaa"}, "gridDash": [3, 3],
                "ticks": true, "tickSize": -8, "labelPadding": 15.5,
                "labelFont": "DejaVu Sans Mono", "labelFontSize": 13, "labelFlush": false,
                "title": "%", "titleAngle": 0, "titleX": 5.7, "titleY": 29, "titleAlign": "center", "titleBaseline": "middle",
                "titleFont": "Liberation Sans", "titleFontSize": 18, "titleFontWeight": "normal", "titleColor": "#333"
              }
            },
            "color": {
              "field": "series", "type": "nominal",
              "scale": {"domain": ["日本：国债利率：10年", "日本：国债利率：20年", "日本：国债利率：30年", "日本：国债利率：40年"], "range": ["#404040", "#e07098", "#a8a8a8", "#cf3a72"]},
              "legend": {
                "orient": "none", "legendX": 588, "legendY": 348.5, "title": null, "columns": 2, "direction": "horizontal",
                "symbolType": "stroke", "symbolSize": 1024, "symbolStrokeWidth": 1.3,
                "labelFont": "Noto Sans CJK SC", "labelFontSize": 17, "labelColor": "#333", "labelOffset": 7,
                "rowPadding": -1, "columnPadding": 21, "padding": 0, "labelLimit": 500
              }
            },
            "strokeDash": {
              "field": "series", "type": "nominal",
              "scale": {"domain": ["日本：国债利率：10年", "日本：国债利率：20年", "日本：国债利率：30年", "日本：国债利率：40年"], "range": [[1, 0], [3, 2], [1, 0], [1, 0]]}
            }
          }
        },
        {
          "data": {"values": [{}]},
          "mark": {"type": "rect", "fill": "transparent", "stroke": "#000", "strokeWidth": 1},
          "encoding": {
            "x": {"datum": {"year": 2019, "month": 12, "date": 3}, "type": "temporal"},
            "x2": {"datum": {"year": 2022, "month": 11, "date": 30}},
            "y": {"datum": -0.25, "type": "quantitative"},
            "y2": {"datum": 1.75}
          }
        }
      ]
    }
  ],
  "resolve": {
    "scale": {"x": "independent", "y": "independent", "color": "independent", "strokeDash": "independent"},
    "axis": {"x": "independent", "y": "independent"},
    "legend": {"color": "independent", "strokeDash": "independent"}
  }
}
